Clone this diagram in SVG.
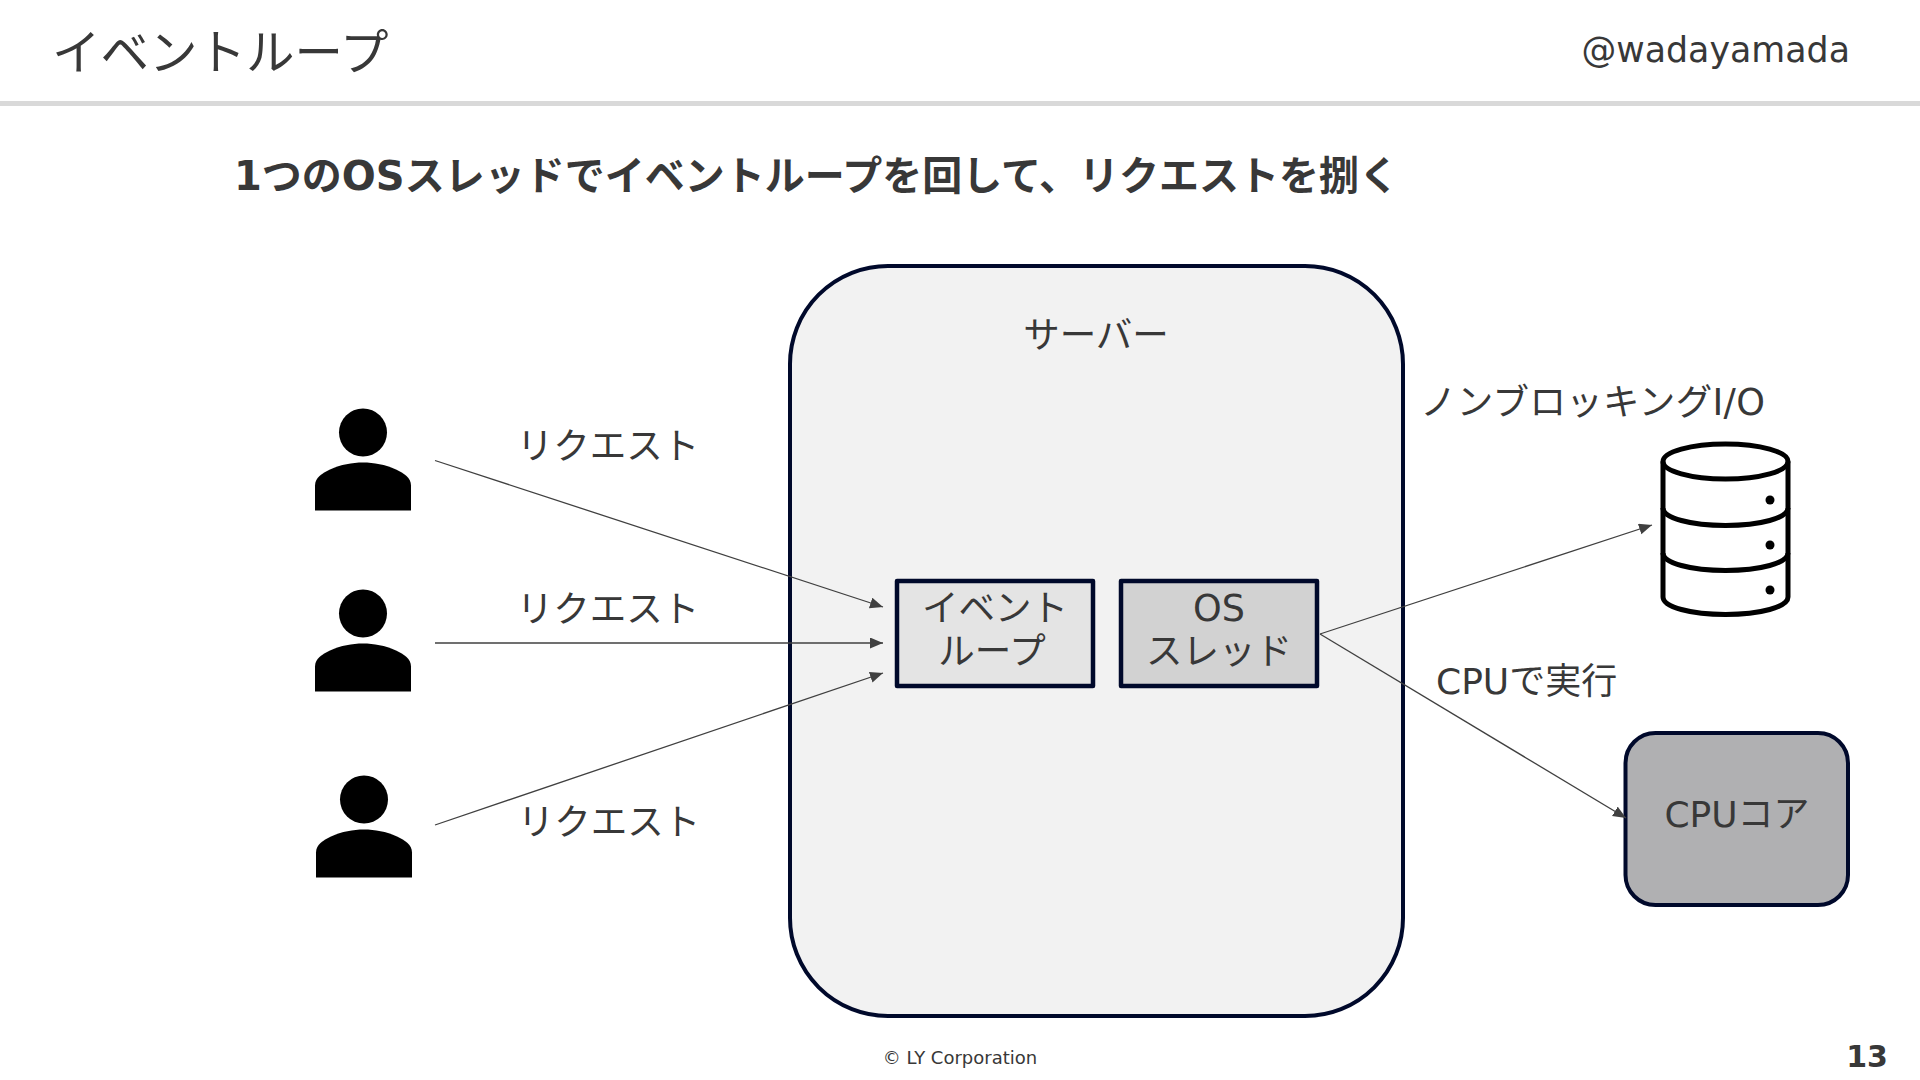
<svg xmlns="http://www.w3.org/2000/svg" width="1920" height="1080" viewBox="0 0 1920 1080">
<style>
text{font-family:"DejaVu Sans","Noto Sans CJK JP",sans-serif;fill:#383838;}
.m{font-size:36.5px;text-anchor:middle}
.l{font-size:36.5px}
.box{stroke:#00092b;stroke-linejoin:round}
.c{stroke:#404040;stroke-width:1.3;fill:none;marker-end:url(#a)}
.db{fill:none;stroke:#000;stroke-width:5}
</style>
<defs>
<marker id="a" markerUnits="userSpaceOnUse" markerWidth="14" markerHeight="12" refX="13" refY="5.5" orient="auto"><path d="M0 0L13 5.5L0 11Z" fill="#404040"/></marker>
<g id="p"><circle cx="363" cy="432.500" r="24"/><path d="M315 510.500V485.500C315 477.500 322 473.500 330 469.500C341 464.500 352 462.500 363 462.500C374 462.500 385 464.500 396 469.500C404 473.500 411 477.500 411 485.500V510.500Z"/></g>
</defs>
<rect width="1920" height="1080" fill="#fff"/>
<rect x="0" y="101" width="1920" height="5" fill="#d9d9d9"/>
<g id="header">
<text x="52" y="70" font-size="48.500">イベントループ</text>
<text x="1850" y="62" font-size="34.800" text-anchor="end">@wadayamada</text>
<text x="234" y="190" font-size="40" font-weight="700">1つのOSスレッドでイベントループを回して、リクエストを捌く</text>
<text x="960" y="1064" font-size="18" text-anchor="middle">© LY Corporation</text>
<text x="1888" y="1067" font-size="30" font-weight="700" text-anchor="end">13</text>
</g>
<g id="server"><rect class="box" x="790" y="266" width="613" height="750" rx="98" fill="#f2f2f2" stroke-width="4"/><text class="m" x="1096" y="348">サーバー</text></g>
<g id="user1"><use href="#p"/></g>
<g id="user2"><use href="#p" y="181"/></g>
<g id="user3"><use href="#p" x="1" y="367"/></g>
<g id="label-req"><text class="m" x="608" y="459">リクエスト</text><text class="m" x="608" y="622">リクエスト</text><text class="m" x="609" y="835">リクエスト</text></g>
<g id="eventloop"><rect class="box" x="897" y="581" width="196" height="105" fill="#e4e4e4" stroke-width="4.500"/><text class="m" x="995" y="621">イベント</text><text class="m" x="992" y="664">ループ</text></g>
<g id="osthread"><rect class="box" x="1121" y="581" width="196" height="105" fill="#d2d2d2" stroke-width="4.500"/><text class="m" x="1219" y="621">OS</text><text class="m" x="1219" y="664">スレッド</text></g>
<g id="db">
<ellipse class="db" cx="1725.500" cy="461.500" rx="62.500" ry="17.500"/>
<path class="db" d="M1663 461.500V597C1663 607 1691 614.500 1725.500 614.500C1760 614.500 1788 607 1788 597V461.500"/>
<path class="db" d="M1663 508C1663 518 1691 525.500 1725.500 525.500C1760 525.500 1788 518 1788 508"/>
<path class="db" d="M1663 553C1663 563 1691 570.500 1725.500 570.500C1760 570.500 1788 563 1788 553"/>
<circle cx="1770" cy="500" r="4.500"/><circle cx="1770" cy="545" r="4.500"/><circle cx="1770" cy="590" r="4.500"/>
</g>
<g id="cpu"><rect class="box" x="1625.500" y="733" width="222.500" height="172" rx="30" fill="#b0b0b2" stroke-width="4"/><text class="m" x="1737" y="827" style="font-size:36px">CPUコア</text></g>
<text class="l" x="1420" y="415" textLength="345">ノンブロッキングI/O</text>
<text class="l" x="1436" y="694" style="font-size:36px">CPUで実行</text>
<g id="connectors">
<path class="c" d="M435 460.500L883 607"/>
<path class="c" d="M435 643L883 643"/>
<path class="c" d="M435 825L883 673"/>
<path class="c" d="M1320 634L1652 525"/>
<path class="c" d="M1320 634L1626 818"/>
</g>
</svg>
